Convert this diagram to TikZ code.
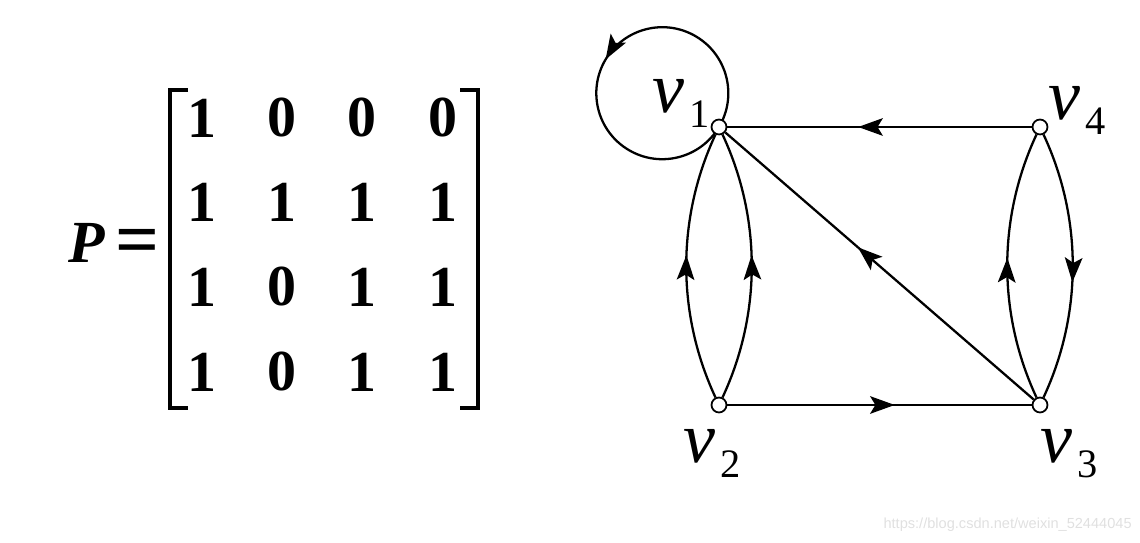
\documentclass[tikz,border=0pt]{standalone}
\usepackage{fontspec}
\setmainfont{Liberation Serif}
\newfontfamily\wmfont{Liberation Sans}
\usetikzlibrary{arrows.meta,decorations.markings}
\pgfdeclarelayer{edges}
\pgfsetlayers{edges,main}
\tikzset{
  vertex/.style={draw, circle, fill=white, line width=1pt, inner sep=0pt, minimum size=8.5pt},
  arc edge/.style={line width=1.3pt},
  midarrow/.style={postaction={decorate}, decoration={markings, mark=at position #1 with {\arrow{Stealth[length=14pt,width=10pt,inset=3pt]}}}},
  midarrow/.default=0.55,
  entry/.style={font=\fontsize{33}{33}\selectfont\bfseries, inner sep=0pt},
  bracket/.style={line width=2.3pt},
}
\newcommand{\vname}[1]{{\fontsize{41}{41}\selectfont\itshape v}\hspace{3pt}\raisebox{-8pt}{\fontsize{23}{23}\selectfont #1}}

\begin{document}
\begin{tikzpicture}[x=0.02cm, y=0.02cm]
\useasboundingbox (0,0) rectangle (1140,543);
% matrix P
\node[inner sep=0pt, font=\fontsize{34}{34}\selectfont\bfseries\itshape] (P) at (87,300) {P};
\node[inner sep=0pt, font=\fontsize{44}{44}\selectfont\bfseries] (eq) at (138,296) {=};
\draw[bracket] (188,453) -- (170,453) -- (170,135) -- (188,135);
\draw[bracket] (460,453) -- (478,453) -- (478,135) -- (460,135);
\node[entry] (m11) at (202,425) {1};
\node[entry] (m12) at (282,425) {0};
\node[entry] (m13) at (362,425) {0};
\node[entry] (m14) at (443,425) {0};
\node[entry] (m21) at (202,341) {1};
\node[entry] (m22) at (282,341) {1};
\node[entry] (m23) at (362,341) {1};
\node[entry] (m24) at (443,341) {1};
\node[entry] (m31) at (202,256) {1};
\node[entry] (m32) at (282,256) {0};
\node[entry] (m33) at (362,256) {1};
\node[entry] (m34) at (443,256) {1};
\node[entry] (m41) at (202,171) {1};
\node[entry] (m42) at (282,171) {0};
\node[entry] (m43) at (362,171) {1};
\node[entry] (m44) at (443,171) {1};
% graph
\node[vertex] (v1) at (719,416) {};
\node[vertex] (v2) at (719,138) {};
\node[vertex] (v3) at (1040,138) {};
\node[vertex] (v4) at (1040,416) {};
\node[anchor=base west, inner sep=0pt] (l1) at (652,430) {\vname{1}};
\node[anchor=base west, inner sep=0pt] (l2) at (683,80) {\vname{2}};
\node[anchor=base west, inner sep=0pt] (l3) at (1040,80) {\vname{3}};
\node[anchor=base west, inner sep=0pt] (l4) at (1048,423) {\vname{4}};
\begin{pgfonlayer}{edges}
\draw[arc edge, midarrow=0.5] (v1.center) arc[start angle=-30.8, end angle=329.2, radius=66];
\draw[arc edge, midarrow=0.54] (v2) to[bend left=25, looseness=0.9] (v1);
\draw[arc edge, midarrow=0.54] (v2) to[bend right=25, looseness=0.9] (v1);
\draw[arc edge, midarrow=0.53] (v3) to[bend left=25, looseness=0.9] (v4);
\draw[arc edge, midarrow=0.56] (v4) to[bend left=25, looseness=0.9] (v3);
\draw[arc edge, midarrow=0.57] (v4) -- (v1);
\draw[arc edge, midarrow=0.55] (v2) -- (v3);
\draw[arc edge, midarrow=0.57] (v3) -- (v1);
\end{pgfonlayer}
\node[text=black!12, font=\wmfont\fontsize{8.3}{8.3}\selectfont, anchor=east, inner sep=0pt] (wm) at (1132,18) {https://blog.csdn.net/weixin\_52444045};
\end{tikzpicture}
\end{document}
